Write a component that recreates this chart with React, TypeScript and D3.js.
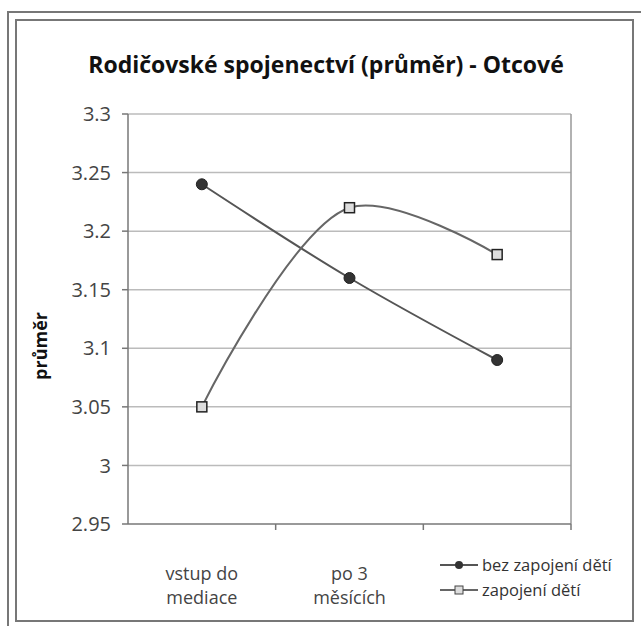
import * as d3 from "d3";

const categories = ["vstup do|mediace", "po 3|měsících", ""];
const seriesNames = ["bez zapojení dětí", "zapojení dětí"];
const bezZapojeni = [3.24, 3.16, 3.09];
const zapojeni = [3.05, 3.22, 3.18];
const yTicks = [2.95, 3, 3.05, 3.1, 3.15, 3.2, 3.25, 3.3];

const W = 641;
const H = 626;
const plotLeft = 128;
const plotRight = 571;
const plotTop = 114;
const plotBottom = 524;
const font = "'Open Sans', sans-serif";

const x = d3.scaleBand<number>().domain([0, 1, 2]).range([plotLeft, plotRight]);
const y = d3.scaleLinear().domain([2.95, 3.3]).range([plotBottom, plotTop]);

const line = d3
  .line<number>()
  .x((_, i) => x(i)! + x.bandwidth() / 2)
  .y((d) => y(d))
  .curve(d3.curveCatmullRom.alpha(0.5));

export default function App() {
  return (
    <svg width={W} height={H} style={{ position: "absolute", left: 0, top: 0 }}>
      <rect x={0} y={0} width={W} height={H} fill="white" />
      <rect x={8} y={12} width={W} height={H} fill="none" stroke="#777" strokeWidth={2} />
      <rect x={16} y={20} width={617} height={601} fill="none" stroke="#777" strokeWidth={2} />

      <text
        x={326}
        y={73}
        textAnchor="middle"
        fontFamily={font}
        fontWeight="bold"
        fontSize={23}
        fill="#111"
      >
        Rodičovské spojenectví (průměr) - Otcové
      </text>

      {/* grid */}
      {yTicks.map((t) => (
        <g key={t}>
          {t > 2.95 && (
            <line x1={plotLeft} x2={plotRight} y1={y(t)} y2={y(t)} stroke="#bbb" strokeWidth={1.5} />
          )}
          <line x1={plotLeft - 6} x2={plotLeft} y1={y(t)} y2={y(t)} stroke="#777" strokeWidth={1.5} />
          <text
            x={plotLeft - 17}
            y={y(t)}
            dy="0.36em"
            textAnchor="end"
            fontFamily={font}
            fontSize={20}
            fill="#444"
          >
            {d3.format("")(t)}
          </text>
        </g>
      ))}
      <line x1={plotRight} x2={plotRight} y1={plotTop} y2={plotBottom} stroke="#999" strokeWidth={1.5} />
      <line x1={plotLeft} x2={plotLeft} y1={plotTop} y2={plotBottom} stroke="#777" strokeWidth={1.5} />
      <line x1={plotLeft} x2={plotRight} y1={plotBottom} y2={plotBottom} stroke="#777" strokeWidth={1.5} />
      {[0, 1, 2].map((i) => (
        <line
          key={i}
          x1={x(i)! + x.bandwidth()}
          x2={x(i)! + x.bandwidth()}
          y1={plotBottom}
          y2={plotBottom + 6}
          stroke="#777"
          strokeWidth={1.5}
        />
      ))}

      {categories.map((c, i) =>
        c.split("|").map((part, j) =>
          part ? (
            <text
              key={i + "-" + j}
              x={x(i)! + x.bandwidth() / 2}
              y={580 + j * 24}
              textAnchor="middle"
              fontFamily={font}
              fontSize={18}
              fill="#444"
            >
              {part}
            </text>
          ) : null
        )
      )}

      <text
        transform={`translate(47,346) rotate(-90)`}
        textAnchor="middle"
        fontFamily={font}
        fontWeight="bold"
        fontSize={18}
        fill="#111"
      >
        průměr
      </text>

      {/* series */}
      <path d={line(bezZapojeni)!} fill="none" stroke="#555" strokeWidth={2} />
      <path d={line(zapojeni)!} fill="none" stroke="#666" strokeWidth={2} />
      {bezZapojeni.map((v, i) => (
        <circle key={"b" + i} cx={x(i)! + x.bandwidth() / 2} cy={y(v)} r={5.5} fill="#333" stroke="#222" />
      ))}
      {zapojeni.map((v, i) => (
        <rect
          key={"z" + i}
          x={x(i)! + x.bandwidth() / 2 - 5}
          y={y(v) - 5}
          width={10}
          height={10}
          fill="#ddd"
          stroke="#222"
          strokeWidth={1.5}
        />
      ))}

      {/* legend */}
      {seriesNames.map((s, i) => {
        const ly = 565 + i * 25;
        return (
          <g key={s}>
            <line x1={440} x2={478} y1={ly} y2={ly} stroke={i === 0 ? "#555" : "#666"} strokeWidth={2} />
            {i === 0 ? (
              <circle cx={459} cy={ly} r={4} fill="#333" />
            ) : (
              <rect x={455} y={ly - 4} width={8} height={8} fill="#ddd" stroke="#444" />
            )}
            <text x={482} y={ly} dy="0.35em" fontFamily={font} fontSize={16.5} fill="#333">
              {s}
            </text>
          </g>
        );
      })}
    </svg>
  );
}
